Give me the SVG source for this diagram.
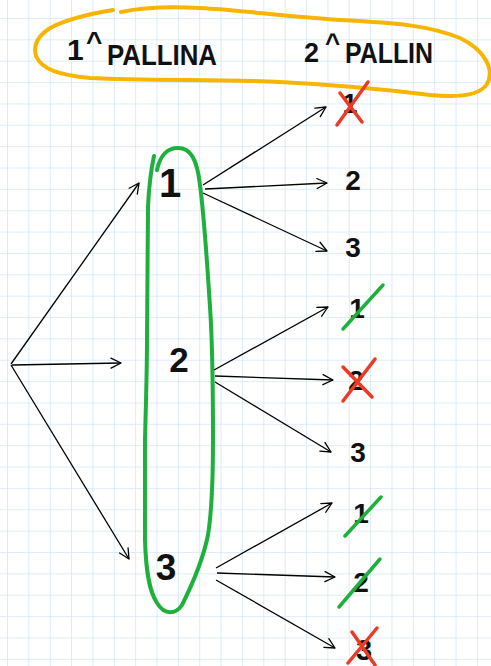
<svg xmlns="http://www.w3.org/2000/svg" width="491" height="666" viewBox="0 0 491 666">
<defs>
<pattern id="grid" x="7" y="18" width="21.36" height="21.36" patternUnits="userSpaceOnUse">
<path d="M0,0 H21.36 M0,0 V21.36" stroke="#d2e8f7" stroke-width="1.6" fill="none"/>
</pattern>
<marker id="arr" viewBox="-11 -6 12 12" refX="0" refY="0" markerWidth="12" markerHeight="12" markerUnits="userSpaceOnUse" orient="auto">
<path d="M-10,-5 L0,0 L-10,5" fill="none" stroke="#000" stroke-width="1.3" stroke-linecap="round" stroke-linejoin="round"/>
</marker>
<style>
.t{font-family:"Liberation Sans",Arial,sans-serif;font-weight:bold;fill:#111}
.c{stroke:#000;stroke-width:1.3;fill:none;marker-end:url(#arr)}
.red{stroke:#ec3a24;stroke-width:3.5;stroke-linecap:round;fill:none}
.grn{stroke:#1eb03c;stroke-width:3.5;stroke-linecap:round;fill:none}
</style>
</defs>
<rect width="491" height="666" fill="#fff"/>
<rect width="491" height="666" fill="url(#grid)"/>

<g id="header-loop">
<path d="M113,10 C95,13 70,18 52,27 C38,35 33,45 36,56 C42,70 60,75 90,78 C150,81 220,79 280,82 C340,85 390,90 430,95 C460,98 480,95 487,84 C495,70 485,50 460,38 C430,26 400,23 340,20 C280,16 240,10 200,8 C160,6 140,8 121,12" fill="none" stroke="#f7b500" stroke-width="4" stroke-linecap="round"/>
</g>

<g id="header-1">
<text class="t"><tspan x="67" y="60" font-size="30">1</tspan><tspan x="86" y="51" font-size="28">^</tspan><tspan x="107" y="65" font-size="30" textLength="110" lengthAdjust="spacingAndGlyphs">PALLINA</tspan></text>
</g>
<g id="header-2">
<text class="t"><tspan x="304" y="62" font-size="27">2</tspan><tspan x="325" y="52" font-size="26">^</tspan><tspan x="345" y="63" font-size="29" textLength="88" lengthAdjust="spacingAndGlyphs">PALLIN</tspan></text>
</g>

<g id="group-loop">
<path d="M157,170 C160,155 168,148 178,148 C190,148 197,158 200,185 C204,215 207,260 210,307 C213,350 213,400 213,440 C213,480 212,510 208,535 C203,560 192,585 182,605 C176,614 165,616 157,603 C150,592 146,575 145,540 C145,500 145,470 145,440 C146,400 147,370 147,340 C147,290 148,240 148,207 C149,185 151,170 154,156" fill="none" stroke="#1eb03c" stroke-width="4" stroke-linecap="round"/>
</g>

<g id="connectors">
<path class="c" d="M11,364 L139,183"/>
<path class="c" d="M12,365 L121,363"/>
<path class="c" d="M11,365 L129,559"/>
<path class="c" d="M203,185 L326,107"/>
<path class="c" d="M205,189 L327,183"/>
<path class="c" d="M203,193 L327,251"/>
<path class="c" d="M214,370 L328,307"/>
<path class="c" d="M215,376 L333,380"/>
<path class="c" d="M215,382 L331,452"/>
<path class="c" d="M216,568 L332,503"/>
<path class="c" d="M217,573 L335,577"/>
<path class="c" d="M216,580 L335,648"/>
</g>

<g id="n1"><text class="t" x="170" y="197" font-size="40" text-anchor="middle">1</text></g>
<g id="n2"><text class="t" x="179" y="372" font-size="35" text-anchor="middle">2</text></g>
<g id="n3"><text class="t" x="166" y="580" font-size="37" text-anchor="middle">3</text></g>

<g id="n1-1"><text class="t" x="350" y="113" font-size="27" text-anchor="middle">1</text>
<path class="red" d="M337,125 L368,82 M340,93 L362,122"/></g>
<g id="n1-2"><text class="t" x="353" y="190" font-size="28" text-anchor="middle">2</text></g>
<g id="n1-3"><text class="t" x="353" y="257" font-size="28" text-anchor="middle">3</text></g>

<g id="n2-1"><text class="t" x="357" y="318" font-size="28" text-anchor="middle">1</text>
<path class="grn" d="M343,329 L383,285"/></g>
<g id="n2-2"><text class="t" x="356" y="390" font-size="28" text-anchor="middle">2</text>
<path class="red" d="M343,367 L372,397 M375,359 L343,401"/></g>
<g id="n2-3"><text class="t" x="358" y="462" font-size="28" text-anchor="middle">3</text></g>

<g id="n3-1"><text class="t" x="361" y="523" font-size="28" text-anchor="middle">1</text>
<path class="grn" d="M345,536 L381,497"/></g>
<g id="n3-2"><text class="t" x="361" y="592" font-size="28" text-anchor="middle">2</text>
<path class="grn" d="M339,607 L380,559"/></g>
<g id="n3-3"><text class="t" x="364" y="660" font-size="29" text-anchor="middle">3</text>
<path class="red" d="M352,632 L375,665 M377,628 L348,663"/></g>
</svg>
